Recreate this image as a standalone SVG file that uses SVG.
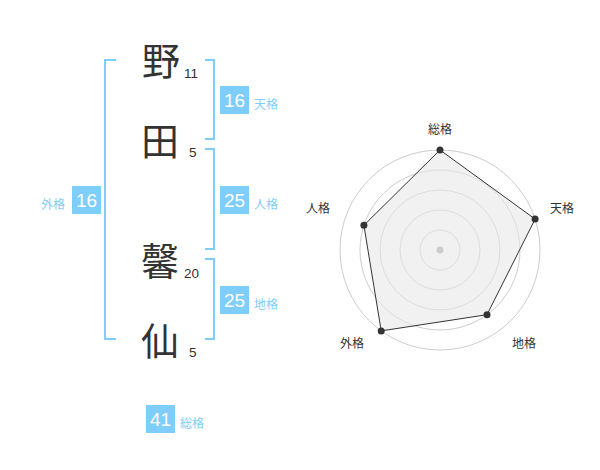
<svg xmlns="http://www.w3.org/2000/svg" width="600" height="470" viewBox="0 0 600 470">
<style>
.ch{font-family:"Noto Sans CJK JP","Noto Sans CJK SC",sans-serif;font-size:38px;fill:#333;text-anchor:middle}
.st{font-family:"Liberation Sans",Arial,sans-serif;font-size:13.5px;fill:#333}
.br{fill:none;stroke:#7fcdfa;stroke-width:2}
.box{fill:#7fcdfa}
.num{font-family:"Liberation Sans",Arial,sans-serif;font-size:19px;fill:#fff;text-anchor:middle}
.lb{font-family:"Noto Sans CJK JP","Noto Sans CJK SC",sans-serif;font-size:12px;fill:#7fcdfa}
.rl{font-family:"Noto Sans CJK JP","Noto Sans CJK SC",sans-serif;font-size:12px;fill:#333;text-anchor:middle}
.ring{fill:none;stroke:#cccccc;stroke-width:1}
.dot{fill:#333}
</style>
<rect width="600" height="470" fill="#fff"/>
<g id="char-no">
<text class="ch" x="161" y="75">野</text>
<text class="st" x="184" y="78">11</text>
</g>
<g id="char-ta">
<text class="ch" x="160" y="155">田</text>
<text class="st" x="189" y="157">5</text>
</g>
<g id="char-kaori">
<text class="ch" x="160" y="275">馨</text>
<text class="st" x="184" y="278">20</text>
</g>
<g id="char-sen">
<text class="ch" x="160" y="355">仙</text>
<text class="st" x="189" y="357">5</text>
</g>
<g id="connectors">
<path class="br" d="M116,60H105V339H116"/>
<path class="br" d="M205,60H214V139H205"/>
<path class="br" d="M205,149H214V249H205"/>
<path class="br" d="M205,259H214V339H205"/>
</g>
<g id="tenkaku">
<rect class="box" x="220" y="86" width="29" height="28"/>
<text class="num" x="234.5" y="107">16</text>
<text class="lb" x="254" y="109">天格</text>
</g>
<g id="jinkaku">
<rect class="box" x="220" y="186" width="29" height="28"/>
<text class="num" x="234.5" y="207">25</text>
<text class="lb" x="254" y="209">人格</text>
</g>
<g id="chikaku">
<rect class="box" x="220" y="286" width="29" height="28"/>
<text class="num" x="234.5" y="307">25</text>
<text class="lb" x="254" y="309">地格</text>
</g>
<g id="gaikaku">
<rect class="box" x="72" y="186" width="29" height="28"/>
<text class="num" x="86.5" y="207">16</text>
<text class="lb" x="41" y="209">外格</text>
</g>
<g id="soukaku">
<rect class="box" x="146" y="405" width="29" height="28"/>
<text class="num" x="160.5" y="426">41</text>
<text class="lb" x="180" y="428">総格</text>
</g>
<g id="radar">
<circle class="ring" cx="440" cy="250" r="20"/>
<circle class="ring" cx="440" cy="250" r="40"/>
<circle class="ring" cx="440" cy="250" r="60"/>
<circle class="ring" cx="440" cy="250" r="80"/>
<circle class="ring" cx="440" cy="250" r="100"/>
<polygon points="440,150 535.1,219.1 487,314.7 381.2,330.9 363.9,225.3" fill="#e8e8e8" fill-opacity="0.6" stroke="#333" stroke-width="1"/>
<circle cx="440" cy="250" r="3.5" fill="#cccccc"/>
<circle class="dot" cx="440" cy="150" r="3.5"/>
<circle class="dot" cx="535.1" cy="219.1" r="3.5"/>
<circle class="dot" cx="487" cy="314.7" r="3.5"/>
<circle class="dot" cx="381.2" cy="330.9" r="3.5"/>
<circle class="dot" cx="363.9" cy="225.3" r="3.5"/>
<text class="rl" x="440" y="134">総格</text>
<text class="rl" x="562" y="213">天格</text>
<text class="rl" x="524" y="348">地格</text>
<text class="rl" x="352" y="348">外格</text>
<text class="rl" x="318" y="213">人格</text>
</g>
</svg>
